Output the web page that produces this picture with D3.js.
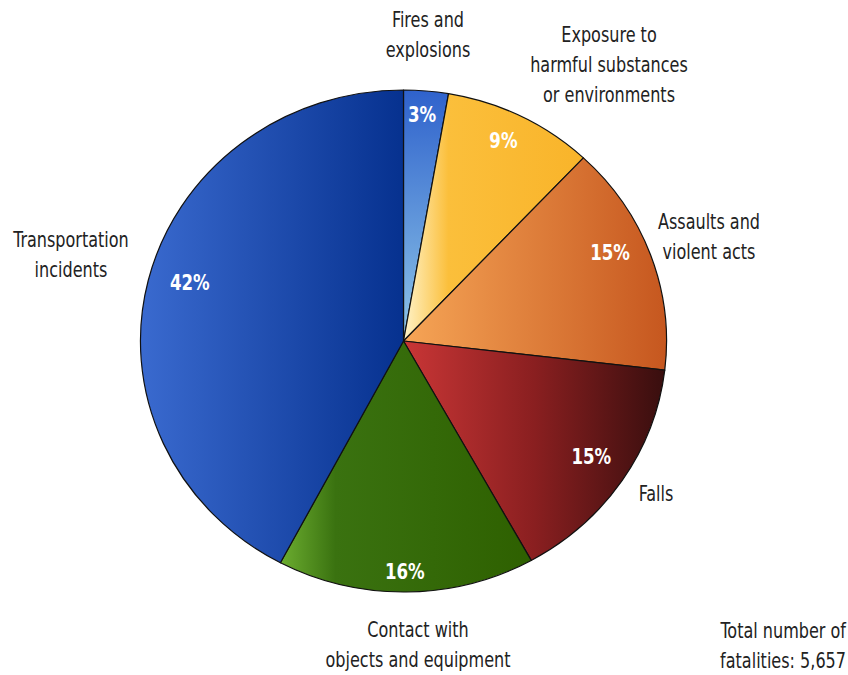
<!DOCTYPE html>
<html>
<head>
<meta charset="utf-8">
<script src="https://cdn.jsdelivr.net/npm/d3@7"></script>
<style>
  html, body { margin: 0; padding: 0; background: #fff; }
  svg { display: block; }
  text { font-family: "DejaVu Sans Condensed", "DejaVu Sans", sans-serif; }
</style>
</head>
<body>
<svg id="chart" width="848" height="675"></svg>
<script>
// ---- data ----
const categories = [
  "Fires and explosions",
  "Exposure to harmful substances or environments",
  "Assaults and violent acts",
  "Falls",
  "Contact with objects and equipment",
  "Transportation incidents"
];
const fatalities = [155, 523, 841, 853, 895, 2390];
const categoryLabelLines = [
  ["Fires and", "explosions"],
  ["Exposure to", "harmful substances", "or environments"],
  ["Assaults and", "violent acts"],
  ["Falls"],
  ["Contact with", "objects and equipment"],
  ["Transportation", "incidents"]
];
const totalNote = ["Total number of", "fatalities: 5,657"];

// ---- layout / style (not data) ----
const cx = 403.5, cy = 341, ry = 251, sx = 1.048;
const labelRadius = 218;
const textScale = 0.85, pctScale = 0.84;
const pctNudge = [[-1, -9], [-2, -5], [-8, -14], [-2, -6], [-1, 12], [8, -6]];
const labelPos = [
  {x: 428, y: 20},
  {x: 609, y: 35},
  {x: 709, y: 222},
  {x: 656, y: 494},
  {x: 418, y: 630},
  {x: 71,  y: 240}
];
const gradients = [
  {dir: "v", stops: [[0, "#2f62cc"], [1, "#8ec6e8"]]},
  {dir: "h", stops: [[0, "#fff3c9"], [0.25, "#fbbf3b"], [1, "#f9b42a"]]},
  {dir: "h", stops: [[0, "#f6a556"], [1, "#c6571f"]]},
  {dir: "h", stops: [[0, "#c93636"], [0.5, "#8a1f20"], [1, "#380e0e"]]},
  {dir: "h", stops: [[0, "#6cad30"], [0.22, "#3a7210"], [1, "#2e6000"]]},
  {dir: "h", stops: [[0, "#3a6acf"], [1, "#06318f"]]}
];

const svg = d3.select("#chart");
const defs = svg.append("defs");
gradients.forEach((g, i) => {
  const lg = defs.append("linearGradient").attr("id", "g" + i)
    .attr("x1", 0).attr("y1", 0)
    .attr("x2", g.dir === "h" ? 1 : 0).attr("y2", g.dir === "v" ? 1 : 0);
  g.stops.forEach(s => lg.append("stop").attr("offset", s[0]).attr("stop-color", s[1]));
});

const total = d3.sum(fatalities);
const data = categories.map((c, i) => ({cat: c, value: fatalities[i], i}));
const pie = d3.pie().value(d => d.value).sort(null).startAngle(0).endAngle(2 * Math.PI);
const arcs = pie(data);
const arc = d3.arc().innerRadius(0).outerRadius(ry);

const g = svg.append("g").attr("transform", `translate(${cx},${cy}) scale(${sx},1)`);
g.selectAll("path").data(arcs).join("path")
  .attr("d", arc)
  .attr("fill", d => `url(#g${d.data.i})`)
  .attr("stroke", "#111")
  .attr("stroke-width", 1.2)
  .attr("vector-effect", "non-scaling-stroke")
  .attr("stroke-linejoin", "round");

// percent labels
const labelArc = d3.arc().innerRadius(labelRadius).outerRadius(labelRadius);
svg.append("g").selectAll("text").data(arcs).join("text")
  .attr("transform", d => {
    const c = labelArc.centroid(d);
    const n = pctNudge[d.data.i];
    return `translate(${cx + c[0] * sx + n[0]},${cy + c[1] + n[1]}) scale(${pctScale},1)`;
  })
  .attr("text-anchor", "middle")
  .attr("dominant-baseline", "central")
  .attr("fill", "#fff")
  .attr("font-weight", "bold")
  .attr("font-size", 22)
  .text(d => Math.round(d.value / total * 100) + "%");

// category labels
const cl = svg.append("g");
categoryLabelLines.forEach((lines, i) => {
  lines.forEach((ln, j) => {
    cl.append("text")
      .attr("transform", `translate(${labelPos[i].x},${labelPos[i].y + j * 30}) scale(${textScale},1)`)
      .attr("text-anchor", "middle")
      .attr("dominant-baseline", "central")
      .attr("font-size", 21)
      .attr("fill", "#222")
      .text(ln);
  });
});

totalNote.forEach((ln, j) => {
  svg.append("text")
    .attr("transform", `translate(846,${631 + j * 30}) scale(${textScale},1)`)
    .attr("text-anchor", "end")
    .attr("dominant-baseline", "central")
    .attr("font-size", 21)
    .attr("fill", "#222")
    .text(ln);
});
</script>
</body>
</html>
